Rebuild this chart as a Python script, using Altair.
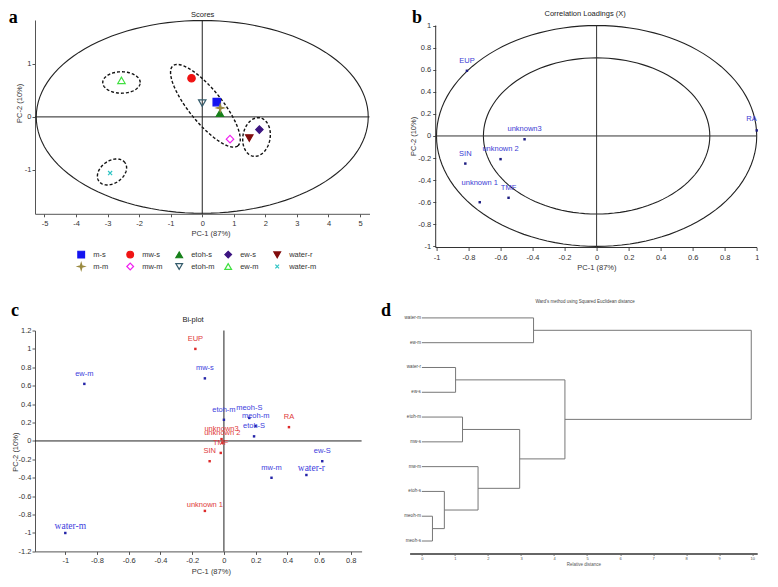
import altair as alt
import numpy as np
import pandas as pd

SANS = "Liberation Sans"
SERIF = "Liberation Serif"
INK = "#333333"

# ---------------- panel a : PCA scores ----------------
score_groups = ["m-s", "mw-s", "etoh-s", "ew-s", "water-r",
                "m-m", "mw-m", "etoh-m", "ew-m", "water-m"]
score_pc1 = [0.46, -0.34, 0.56, 1.81, 1.49, 0.57, 0.88, 0.00, -2.56, -2.92]
score_pc2 = [0.28, 0.73, 0.07, -0.24, -0.40, 0.17, -0.42, 0.26, 0.69, -1.06]
score_colors = ["#1414f0", "#f01414", "#16801a", "#3c1480", "#800c0c",
                "#9a8a40", "#f020f0", "#355c6c", "#40e040", "#2ec4c4"]
score_fills = ["#1414f0", "#f01414", "#16801a", "#3c1480", "#800c0c",
               "#9a8a40", "transparent", "transparent", "transparent", "transparent"]
STAR = "M0,-1L0.22,-0.22L1,0L0.22,0.22L0,1L-0.22,0.22L-1,0L-0.22,-0.22Z"
XMARK = "M-0.55,-0.55L0.55,0.55M-0.55,0.55L0.55,-0.55"
score_shapes = ["square", "circle", "triangle-up", "diamond", "triangle-down",
                STAR, "diamond", "triangle-down", "triangle-up", XMARK]
score_x_ticks = [-5, -4, -3, -2, -1, 0, 1, 2, 3, 4, 5]
score_y_ticks = [-1, 0, 1]
# dashed grouping ellipses: centre (PC1, PC2), semi-axes in px, tilt in degrees
grp_cx = [-2.56, -2.86, 0.10, 1.72]
grp_cy = [0.65, -1.04, 0.21, -0.38]
grp_a = [18.7, 16.0, 51.5, 19.5]
grp_b = [10.7, 11.2, 16.5, 13.6]
grp_tilt = [0, 35, -51, 80]
outer_a, outer_b = 5.26, 1.82

# ---------------- panel b : correlation loadings ----------------
load_vars = ["EUP", "RA", "unknown3", "unknown 2", "SIN", "unknown 1", "TMF"]
load_pc1 = [-0.81, 1.00, -0.45, -0.60, -0.82, -0.73, -0.55]
load_pc2 = [0.59, 0.05, -0.03, -0.21, -0.25, -0.60, -0.56]
load_ticks = [-1, -0.8, -0.6, -0.4, -0.2, 0, 0.2, 0.4, 0.6, 0.8, 1]
inner_r = 0.707

# ---------------- panel c : bi-plot ----------------
bi_samples = ["ew-m", "mw-s", "etoh-m", "meoh-S", "meoh-m", "etoh-S",
              "ew-S", "mw-m", "water-r", "water-m"]
bi_s_pc1 = [-0.88, -0.12, 0.00, 0.16, 0.20, 0.19, 0.62, 0.30, 0.52, -1.00]
bi_s_pc2 = [0.62, 0.68, 0.23, 0.25, 0.16, 0.05, -0.22, -0.40, -0.37, -1.00]
bi_vars = ["EUP", "RA", "SIN", "unknown3", "unknown 2", "TMF", "unknown 1"]
bi_v_pc1 = [-0.18, 0.41, -0.09, -0.015, -0.01, -0.02, -0.12]
bi_v_pc2 = [1.00, 0.15, -0.22, 0.02, -0.02, -0.13, -0.76]
bi_x_ticks = [-1, -0.8, -0.6, -0.4, -0.2, 0, 0.2, 0.4, 0.6, 0.8]
bi_y_ticks = [-1.2, -1, -0.8, -0.6, -0.4, -0.2, 0, 0.2, 0.4, 0.6, 0.8, 1, 1.2]

# ---------------- panel d : dendrogram ----------------
leaf_names = ["water-m", "ew-m", "water-r", "ew-s", "etoh-m",
              "mw-s", "mw-m", "etoh-s", "meoh-m", "meoh-s"]
merge_node = ["A", "B", "C", "D", "E", "F", "G", "H", "root"]
merge_left = ["meoh-m", "etoh-s", "water-r", "etoh-m", "mw-m", "D", "water-m", "C", "G"]
merge_right = ["meoh-s", "A", "ew-s", "mw-s", "B", "E", "ew-m", "F", "H"]
merge_height = [0.32, 0.68, 1.02, 1.23, 1.70, 2.96, 3.38, 4.33, 9.97]
dist_ticks = [0, 1, 2, 3, 4, 5, 6, 7, 8, 9, 10]

# ---------------- layout ----------------
W_A, H_A = 334.5, 193.8
W_B, H_B = 347.6, 227.5
W_C, H_C = 326.6, 220.9
W_D, H_D = 347.6, 222.9
XA, YA = [-5.3, 5.3], [-1.83, 1.83]
XB, YB = [-1.168, 1.003], [-1.01, 1.05]
XC, YC = [-1.191, 0.868], [-1.2, 1.2]
XD, YD = [-0.372, 10.15], [0.508, 9.5]
B_AXIS_SHIFT = (-1.005 - XB[0]) * W_B / (XB[1] - XB[0])


def sc(dom, reverse=False):
    return alt.Scale(domain=dom, nice=False, zero=False, reverse=reverse)


def axis(title, values, tx, ty, **kw):
    base = dict(title=title, values=values,
                labelExpr="'' + round(datum.value * 10) / 10",
                titleX=tx, titleY=ty, titleBaseline="middle", titleAlign="center",
                labelFont=SANS, titleFont=SANS, labelFontSize=7.5, titleFontSize=7.5,
                labelColor=INK, titleColor=INK, titleFontWeight="normal",
                tickSize=3, tickColor="#555", domainColor="#555", grid=False,
                labelFlush=False, labelOverlap=False, labelPadding=2)
    base.update(kw)
    return alt.Axis(**base)


def ellipse_df(cx, cy, a, b, tilt, kx, ky, key, n=120):
    t = np.linspace(0, 2 * np.pi, n + 1)
    th = np.radians(tilt)
    u, v = a * np.cos(t), b * np.sin(t)
    return pd.DataFrame({"x": cx + (u * np.cos(th) - v * np.sin(th)) / kx,
                         "y": cy + (u * np.sin(th) + v * np.cos(th)) / ky,
                         "i": np.arange(n + 1), "k": key})


def note(text, px, py, size, font=SANS, weight="normal", align="center", color="#222"):
    return alt.Chart(pd.DataFrame({"t": [text]})).mark_text(
        font=font, fontSize=size, fontWeight=weight, align=align,
        baseline="alphabetic", color=color, clip=False).encode(
        x=alt.value(px), y=alt.value(py), text="t:N")


def letter(ch, px, py):
    return note(ch, px, py, 18, font=SERIF, weight="bold", align="left", color="#000")


# ======================= panel a =======================
ax_ax = axis("PC-1 (87%)", score_x_ticks, 175.5, 19.6, labelPadding=3)
ax_ay = axis("PC-2 (10%)", score_y_ticks, -15.6, 82.8, labelPadding=1)
xa = lambda f="x": alt.X(f"{f}:Q", scale=sc(XA), axis=ax_ax)
ya = lambda f="y": alt.Y(f"{f}:Q", scale=sc(YA), axis=ax_ay)
kxa, kya = W_A / (XA[1] - XA[0]), H_A / (YA[1] - YA[0])

outer = ellipse_df(0, 0, outer_a, outer_b, 0, 1, 1, "outer")
a_outer = alt.Chart(outer).mark_line(color="#222", strokeWidth=1.1).encode(
    x=xa(), y=ya(), order="i:Q")
groups = pd.concat([ellipse_df(cx, cy, a, b, t, kxa, kya, f"g{j}")
                    for j, (cx, cy, a, b, t) in enumerate(
                        zip(grp_cx, grp_cy, grp_a, grp_b, grp_tilt))])
a_groups = alt.Chart(groups).mark_line(color="#111", strokeWidth=1.4,
                                       strokeDash=[3, 2]).encode(
    x=xa(), y=ya(), order="i:Q", detail="k:N")
a_zero = alt.Chart(pd.DataFrame({"x": [XA[0], 0], "x2": [XA[1], 0],
                                 "y": [0, YA[0]], "y2": [0, YA[1]]})).mark_rule(
    color="#222", strokeWidth=1).encode(x=xa(), x2="x2:Q", y=ya(), y2="y2:Q")
leg = alt.Legend(orient="none", legendX=42.2, legendY=230.5, columns=5, title=None,
                 labelFont=SANS, labelFontSize=7.5, labelColor=INK, symbolSize=45,
                 symbolStrokeWidth=1.2, rowPadding=0, columnPadding=3,
                 gridAlign="all", labelOffset=8, direction="horizontal")
score_df = pd.DataFrame({"g": score_groups, "x": score_pc1, "y": score_pc2})
a_pts = alt.Chart(score_df).mark_point(filled=True, size=55, opacity=1,
                                       strokeWidth=1.2).encode(
    x=xa(), y=ya(),
    shape=alt.Shape("g:N", scale=alt.Scale(domain=score_groups, range=score_shapes), legend=leg),
    fill=alt.Fill("g:N", scale=alt.Scale(domain=score_groups, range=score_fills), legend=leg),
    stroke=alt.Stroke("g:N", scale=alt.Scale(domain=score_groups, range=score_colors), legend=leg))
panel_a = alt.layer(a_outer, a_groups, a_zero, a_pts,
                    note("Scores", 167.7, -2.9, 7.5),
                    letter("a", -26.3, 2.9)).properties(width=W_A, height=H_A)

# ======================= panel b =======================
ax_bx = axis("PC-1 (87%)", load_ticks, 186.8, 19.8, domain=False, labelPadding=3)
ax_by = axis("PC-2 (10%)", load_ticks, -22, 115.9, domain=False, offset=-B_AXIS_SHIFT)
xb = lambda f="x": alt.X(f"{f}:Q", scale=sc(XB), axis=ax_bx)
yb = lambda f="y": alt.Y(f"{f}:Q", scale=sc(YB), axis=ax_by)
circ = pd.concat([ellipse_df(0, 0, 1, 1, 0, 1, 1, "o"),
                  ellipse_df(0, 0, inner_r, inner_r, 0, 1, 1, "in")])
b_circ = alt.Chart(circ).mark_line(color="#222", strokeWidth=1.1).encode(
    x=xb(), y=yb(), order="i:Q", detail="k:N")
b_lines = alt.Chart(pd.DataFrame({
    "x": [-1.005, -1.005, -1.005, 0], "x2": [XB[1], -1.005, 1.0, 0],
    "y": [YB[0], YB[0], 0, YB[0]], "y2": [YB[0], 1.0, 0, 1.0]})).mark_rule(
    color="#333", strokeWidth=1).encode(x=xb(), x2="x2:Q", y=yb(), y2="y2:Q")
load_df = pd.DataFrame({"name": load_vars, "x": load_pc1, "y": load_pc2})
b_pts = alt.Chart(load_df).mark_square(size=6, color="#1c1c80", opacity=1).encode(
    x=xb(), y=yb())
lab_b = dict(font=SANS, fontSize=7.5, color="#3b3bd4")
b_lab = alt.Chart(load_df).transform_filter(
    "datum.name != 'RA' && datum.name != 'unknown 1'").mark_text(
    dy=-10, align="center", **lab_b).encode(x=xb(), y=yb(), text="name:N")
b_lab_ra = alt.Chart(load_df).transform_filter("datum.name == 'RA'").mark_text(
    dy=-11, align="right", **lab_b).encode(x=xb(), y=yb(), text="name:N")
b_lab_u1 = alt.Chart(load_df).transform_filter("datum.name == 'unknown 1'").mark_text(
    dy=-19, align="center", **lab_b).encode(x=xb(), y=yb(), text="name:N")
panel_b = alt.layer(b_circ, b_lines, b_pts, b_lab, b_lab_ra, b_lab_u1,
                    note("Correlation Loadings (X)", 175.5, -3.9, 7.5),
                    letter("b", 2.3, 2.9)).properties(width=W_B, height=H_B)

# ======================= panel c =======================
ax_cx = axis("PC-1 (87%)", bi_x_ticks, 175.8, 20.4, labelPadding=2)
ax_cy = axis("PC-2 (10%)", bi_y_ticks, -20, 121.2, labelPadding=1)
xc = lambda f="x": alt.X(f"{f}:Q", scale=sc(XC), axis=ax_cx)
yc = lambda f="y": alt.Y(f"{f}:Q", scale=sc(YC), axis=ax_cy)
c_zero = alt.Chart(pd.DataFrame({"x": [XC[0], 0], "x2": [XC[1], 0],
                                 "y": [0, YC[0]], "y2": [0, YC[1]]})).mark_rule(
    color="#222", strokeWidth=1).encode(x=xc(), x2="x2:Q", y=yc(), y2="y2:Q")
samp_df = pd.DataFrame({"name": bi_samples, "x": bi_s_pc1, "y": bi_s_pc2})
var_df = pd.DataFrame({"name": bi_vars, "x": bi_v_pc1, "y": bi_v_pc2})
c_spts = alt.Chart(samp_df).mark_square(size=6, color="#2424a8", opacity=1).encode(
    x=xc(), y=yc())
c_vpts = alt.Chart(var_df).mark_square(size=6, color="#dd2a2a", opacity=1).encode(
    x=xc(), y=yc())
c_slab = alt.Chart(samp_df).transform_filter(
    "indexof(datum.name, 'water') < 0").mark_text(
    dy=-10, font=SANS, fontSize=7.5, color="#4040dd").encode(
    x=xc(), y=yc(), text="name:N")
c_wlab = alt.Chart(samp_df).transform_filter(
    "indexof(datum.name, 'water') >= 0").mark_text(
    dy=-7, dx=5, font=SERIF, fontSize=9.5, color="#4040dd").encode(
    x=xc(), y=yc(), text="name:N")
c_vlab = alt.Chart(var_df).transform_filter("datum.name != 'unknown 1'").mark_text(
    dy=-10, font=SANS, fontSize=7.5, color="#e03a3a").encode(
    x=xc(), y=yc(), text="name:N")
c_vlab1 = alt.Chart(var_df).transform_filter("datum.name == 'unknown 1'").mark_text(
    dy=-6, font=SANS, fontSize=7.5, color="#e03a3a").encode(
    x=xc(), y=yc(), text="name:N")
panel_c = alt.layer(c_zero, c_spts, c_vpts, c_slab, c_wlab, c_vlab, c_vlab1,
                    note("Bi-plot", 158, -8.7, 7.5),
                    letter("c", -24, -14.2)).properties(width=W_C, height=H_C)

# ======================= panel d =======================
pos = {n: float(i) for i, n in enumerate(leaf_names)}
hgt = {n: 0.0 for n in leaf_names}
segs = []
for node, l, r, h in zip(merge_node, merge_left, merge_right, merge_height):
    y1, y2 = pos[l], pos[r]
    segs.append({"x": hgt[l], "x2": h, "y": y1, "y2": y1})
    segs.append({"x": hgt[r], "x2": h, "y": y2, "y2": y2})
    segs.append({"x": h, "x2": h, "y": y1, "y2": y2})
    pos[node] = (y1 + y2) / 2
    hgt[node] = h
seg_df = pd.DataFrame(segs)
ax_dx = alt.Axis(title="Relative distance", values=dist_ticks, labelFont=SANS,
                 titleFont=SANS, labelFontSize=4, titleFontSize=4.5, labelColor="#555",
                 titleColor="#555", titleFontWeight="normal", tickSize=2,
                 tickColor="#666", domainColor="#666", domainWidth=2, grid=False,
                 labelPadding=1, titlePadding=1, labelFlush=False)
xd = lambda f="x": alt.X(f"{f}:Q", scale=sc(XD), axis=ax_dx)
yd = lambda f="y": alt.Y(f"{f}:Q", scale=sc(YD, reverse=True), axis=None)
d_segs = alt.Chart(seg_df).mark_rule(color="#777", strokeWidth=1, clip=False).encode(
    x=xd(), x2="x2:Q", y=yd(), y2="y2:Q")
leaf_df = pd.DataFrame({"name": leaf_names, "x": [0.0] * len(leaf_names),
                        "y": [float(i) for i in range(len(leaf_names))]})
d_leaf = alt.Chart(leaf_df).mark_text(align="right", dx=-1, font=SANS, fontSize=4.5,
                                      color="#444", clip=False).encode(
    x=xd(), y=yd(), text="name:N")
panel_d = alt.layer(d_segs, d_leaf,
                    note("Ward's method using Squared Euclidean distance", 175.5, -27.1,
                         4.5, color="#444"),
                    letter("d", -28.6, -14.2)).properties(width=W_D, height=H_D)

chart = alt.concat(panel_a, panel_b, panel_c, panel_d, columns=2, bounds="flush",
                   align="each", spacing={"row": 82.5, "column": 39.6}).properties(
    padding=0).configure_view(stroke=None)

chart.save("out.html", embed_options={"renderer": "svg", "actions": False})
